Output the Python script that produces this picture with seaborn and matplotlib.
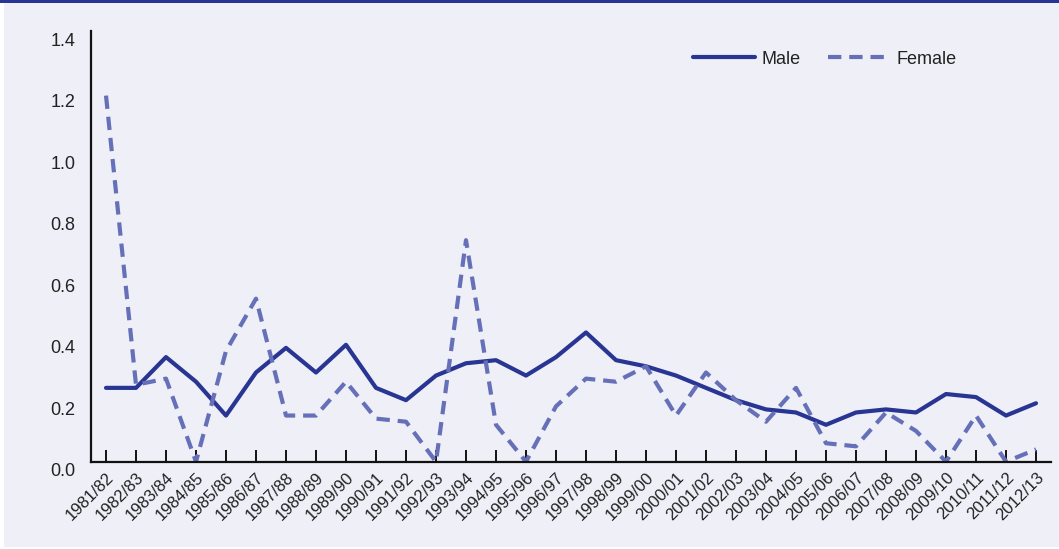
import matplotlib
matplotlib.use("Agg")
import matplotlib.pyplot as plt
from matplotlib.patches import Rectangle
from matplotlib.lines import Line2D
from matplotlib.transforms import ScaledTranslation
import seaborn as sns
import pandas as pd

# Data
years = ["1981/82", "1982/83", "1983/84", "1984/85", "1985/86", "1986/87", "1987/88",
         "1988/89", "1989/90", "1990/91", "1991/92", "1992/93", "1993/94", "1994/95",
         "1995/96", "1996/97", "1997/98", "1998/99", "1999/00", "2000/01", "2001/02",
         "2002/03", "2003/04", "2004/05", "2005/06", "2006/07", "2007/08", "2008/09",
         "2009/10", "2010/11", "2011/12", "2012/13"]
male = [0.24, 0.24, 0.34, 0.26, 0.15, 0.29, 0.37, 0.29, 0.38, 0.24, 0.20, 0.28,
        0.32, 0.33, 0.28, 0.34, 0.42, 0.33, 0.31, 0.28, 0.24, 0.20, 0.17, 0.16,
        0.12, 0.16, 0.17, 0.16, 0.22, 0.21, 0.15, 0.19]
female = [1.19, 0.25, 0.27, 0.0, 0.36, 0.53, 0.15, 0.15, 0.26, 0.14, 0.13, 0.0,
          0.72, 0.12, 0.0, 0.18, 0.27, 0.26, 0.31, 0.15, 0.29, 0.20, 0.13, 0.24,
          0.06, 0.05, 0.16, 0.10, 0.0, 0.15, 0.0, 0.04]

navy = "#283593"
lilac = "#6670b8"
bg = "#eeeff7"
fonts = ["Liberation Sans Narrow", "Liberation Sans", "DejaVu Sans"]

df = pd.DataFrame({
    "Year": years * 2,
    "Value": male + female,
    "Sex": ["Male"] * len(years) + ["Female"] * len(years),
})

sns.set_style("white")
plt.rcParams["font.family"] = fonts

fig = plt.figure(figsize=(10.59, 5.49), dpi=100, facecolor="white")
# panel background and top rule
fig.patches.append(Rectangle((4 / 1059, 2 / 549), 1 - 4 / 1059, 1 - 2 / 549,
                             transform=fig.transFigure, facecolor=bg, edgecolor="none", zorder=-10))
fig.patches.append(Rectangle((0, 1 - 3 / 549), 1, 3 / 549,
                             transform=fig.transFigure, facecolor=navy, edgecolor="none", zorder=-9))

ax = fig.add_axes([91 / 1059, 1 - 461.7 / 549, 960 / 1059, 430.7 / 549])
ax.set_facecolor("none")

sns.lineplot(data=df, x="Year", y="Value", hue="Sex", style="Sex",
             palette={"Male": navy, "Female": lilac},
             dashes={"Male": "", "Female": (3.2, 1.9)},
             linewidth=3, sort=False, legend=False, ax=ax)

ax.set_xlim(-0.5, len(years) - 0.5)
ax.set_ylim(0, 1.4)
ax.set_yticks([0, 0.2, 0.4, 0.6, 0.8, 1.0, 1.2, 1.4])
ax.set_yticklabels(["0.0", "0.2", "0.4", "0.6", "0.8", "1.0", "1.2", "1.4"])
ax.set_xticks(range(len(years)))
ax.set_xticklabels(years, rotation=45, ha="right", va="top", rotation_mode="anchor")
ax.set_xlabel("")
ax.set_ylabel("")

for s in ["top", "right"]:
    ax.spines[s].set_visible(False)
for s in ["left", "bottom"]:
    ax.spines[s].set_color("#111111")
    ax.spines[s].set_linewidth(1.6)

ax.tick_params(axis="x", bottom=True, direction="in", length=9, width=1.4, color="#111111",
               labelsize=12, labelcolor="#222222", pad=6)
ax.tick_params(axis="y", left=False, length=0, labelsize=13, labelcolor="#222222", pad=11)
shift = ScaledTranslation(0, -8 / 100, fig.dpi_scale_trans)
for lab in ax.get_yticklabels():
    lab.set_transform(lab.get_transform() + shift)

handles = [Line2D([], [], color=navy, lw=3),
           Line2D([], [], color=lilac, lw=3, dashes=(3.2, 1.9))]
fig.legend(handles, ["Male", "Female"], loc="center left",
           bbox_to_anchor=(677 / 1059, 1 - 59 / 549), ncol=2, frameon=False,
           fontsize=13, handlelength=3.4, handletextpad=0.4, columnspacing=1.5,
           labelcolor="#222222")

fig.savefig("out.png", dpi=100, facecolor="white")
